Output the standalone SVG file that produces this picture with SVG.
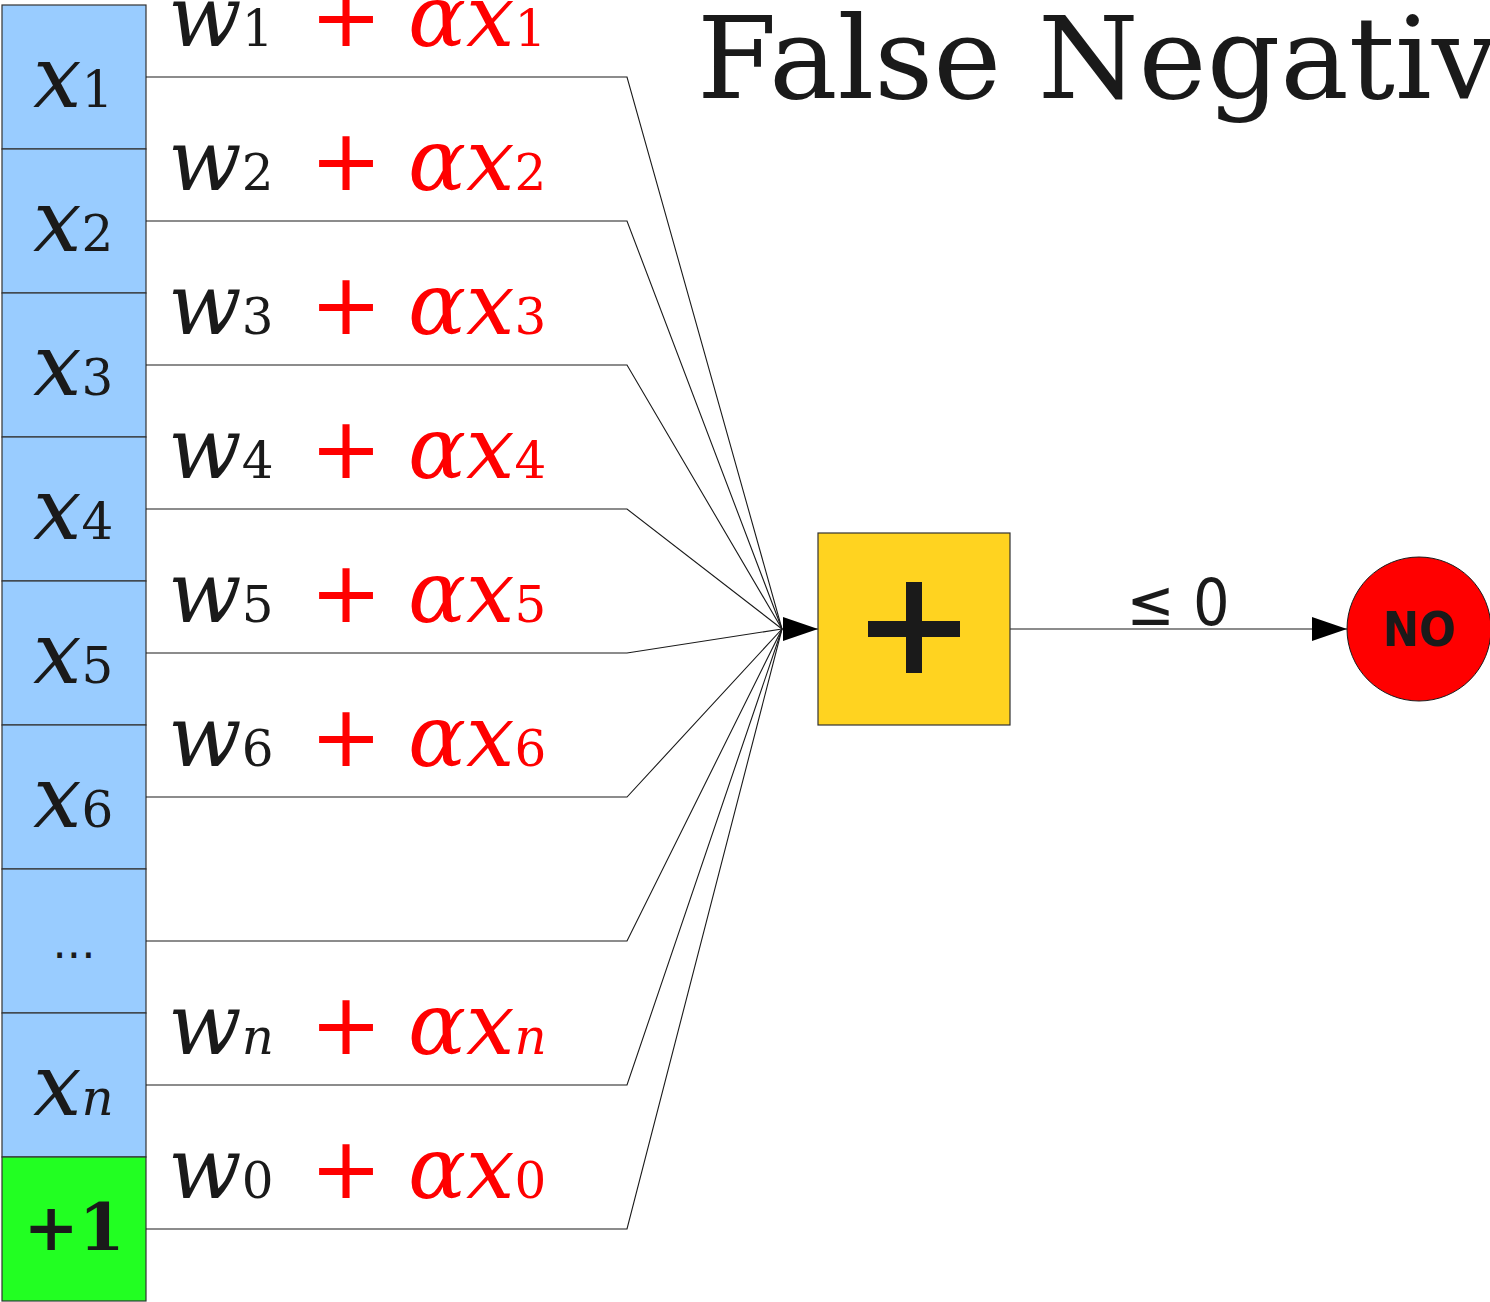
<svg xmlns="http://www.w3.org/2000/svg" width="1490" height="1302" viewBox="0 0 1490 1302">
<style>
.cell{fill:#99ccff;stroke:#333;stroke-width:1.2}
.var{font-family:"DejaVu Serif",serif;font-style:italic;font-size:86px;fill:#1a1a1a}
.sub{font-family:"DejaVu Serif",serif;font-style:normal;font-size:50px}
.subi{font-family:"DejaVu Serif",serif;font-style:italic;font-size:50px}
.red{fill:#ff0000}
.plus{font-family:"DejaVu Sans",sans-serif;font-style:normal;font-size:86px;fill:#ff0000}
.conn{fill:none;stroke:#1a1a1a;stroke-width:1.1}
</style>
<defs>
<marker id="arr" markerUnits="userSpaceOnUse" markerWidth="36" markerHeight="26" refX="35" refY="12" orient="auto" viewBox="0 0 36 24">
<path d="M0,0 L35,12 L0,24 Z" fill="#000"/>
</marker>
</defs>
<rect width="1490" height="1302" fill="#fff"/>
<text x="697" y="98" font-family="DejaVu Serif, serif" font-size="115" fill="#1a1a1a">False Negative</text>
<g id="inputs">
<g id="cell1"><rect class="cell" x="2" y="5" width="144" height="144"/><text class="var" x="33" y="107">x<tspan class="sub">1</tspan></text></g>
<g id="cell2"><rect class="cell" x="2" y="149" width="144" height="144"/><text class="var" x="33" y="251">x<tspan class="sub">2</tspan></text></g>
<g id="cell3"><rect class="cell" x="2" y="293" width="144" height="144"/><text class="var" x="33" y="395">x<tspan class="sub">3</tspan></text></g>
<g id="cell4"><rect class="cell" x="2" y="437" width="144" height="144"/><text class="var" x="33" y="539">x<tspan class="sub">4</tspan></text></g>
<g id="cell5"><rect class="cell" x="2" y="581" width="144" height="144"/><text class="var" x="33" y="683">x<tspan class="sub">5</tspan></text></g>
<g id="cell6"><rect class="cell" x="2" y="725" width="144" height="144"/><text class="var" x="33" y="827">x<tspan class="sub">6</tspan></text></g>
<g id="cell7"><rect class="cell" x="2" y="869" width="144" height="144"/><text x="74" y="958" text-anchor="middle" font-family="DejaVu Sans, sans-serif" font-size="45" fill="#1a1a1a">...</text></g>
<g id="celln"><rect class="cell" x="2" y="1013" width="144" height="144"/><text class="var" x="33" y="1115">x<tspan class="subi">n</tspan></text></g>
<g id="cell0"><rect x="2" y="1157" width="144" height="144" fill="#22ff22" stroke="#333" stroke-width="1.2"/><text x="74" y="1250" text-anchor="middle" font-family="DejaVu Serif, serif" font-weight="bold" font-size="66" fill="#1a1a1a">+1</text></g>
</g>
<g id="labels">
<text class="var" x="168" y="46">w<tspan class="sub">1</tspan><tspan class="plus" x="310">+</tspan><tspan class="red" x="408">αx</tspan><tspan class="sub red">1</tspan></text>
<text class="var" x="168" y="190">w<tspan class="sub">2</tspan><tspan class="plus" x="310">+</tspan><tspan class="red" x="408">αx</tspan><tspan class="sub red">2</tspan></text>
<text class="var" x="168" y="334">w<tspan class="sub">3</tspan><tspan class="plus" x="310">+</tspan><tspan class="red" x="408">αx</tspan><tspan class="sub red">3</tspan></text>
<text class="var" x="168" y="478">w<tspan class="sub">4</tspan><tspan class="plus" x="310">+</tspan><tspan class="red" x="408">αx</tspan><tspan class="sub red">4</tspan></text>
<text class="var" x="168" y="622">w<tspan class="sub">5</tspan><tspan class="plus" x="310">+</tspan><tspan class="red" x="408">αx</tspan><tspan class="sub red">5</tspan></text>
<text class="var" x="168" y="766">w<tspan class="sub">6</tspan><tspan class="plus" x="310">+</tspan><tspan class="red" x="408">αx</tspan><tspan class="sub red">6</tspan></text>
<text class="var" x="168" y="1054">w<tspan class="subi">n</tspan><tspan class="plus" x="310">+</tspan><tspan class="red" x="408">αx</tspan><tspan class="subi red">n</tspan></text>
<text class="var" x="168" y="1198">w<tspan class="sub">0</tspan><tspan class="plus" x="310">+</tspan><tspan class="red" x="408">αx</tspan><tspan class="sub red">0</tspan></text>
</g>
<g id="connectors">
<path class="conn" d="M146,77 H627 L782,629"/>
<path class="conn" d="M146,221 H627 L782,629"/>
<path class="conn" d="M146,365 H627 L782,629"/>
<path class="conn" d="M146,509 H627 L782,629"/>
<path class="conn" d="M146,653 H627 L782,629"/>
<path class="conn" d="M146,797 H627 L782,629"/>
<path class="conn" d="M146,941 H627 L782,629"/>
<path class="conn" d="M146,1085 H627 L782,629"/>
<path class="conn" d="M146,1229 H627 L782,629"/>
<path class="conn" d="M782,629 H818" marker-end="url(#arr)"/>
<path class="conn" d="M1010,629 H1347" marker-end="url(#arr)"/>
<text x="1178" y="625" text-anchor="middle" font-family="DejaVu Sans Condensed, DejaVu Sans, sans-serif" font-stretch="condensed" font-size="64" fill="#1a1a1a">≤ 0</text>
</g>
<g id="sum">
<rect x="818" y="533" width="192" height="192" fill="#ffd320" stroke="#333" stroke-width="1.2"/>
<rect x="868" y="621" width="92" height="16" fill="#1a1a1a"/>
<rect x="906" y="582" width="16" height="91" fill="#1a1a1a"/>
</g>
<g id="no">
<ellipse cx="1419" cy="629" rx="72" ry="72" fill="#ff0000" stroke="#1a1a1a" stroke-width="1"/>
<text x="1419" y="646" text-anchor="middle" font-family="DejaVu Sans Condensed, DejaVu Sans, sans-serif" font-stretch="condensed" font-weight="bold" font-size="48" fill="#1a1a1a">NO</text>
</g>
</svg>
